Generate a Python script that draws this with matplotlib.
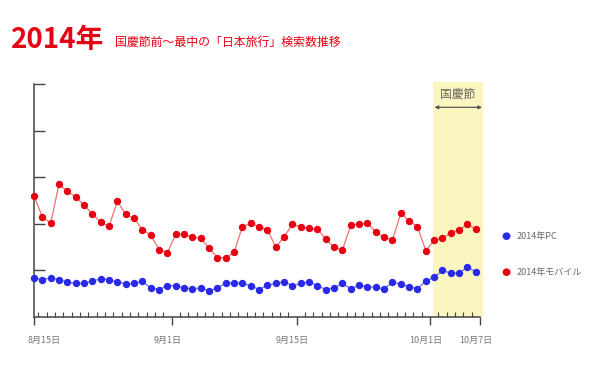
import matplotlib.pyplot as plt
import matplotlib.transforms as mtransforms
import numpy as np

plt.rcParams['font.family'] = ['Noto Sans CJK JP', 'DejaVu Sans']

# daily values, 8/15 .. 10/7 (54 days)
mobile = [260, 215, 201, 285, 270, 258, 240, 221, 203, 195,
          248, 220, 212, 187, 176, 144, 138, 178, 178, 171,
          169, 148, 127, 127, 139, 194, 201, 194, 187, 150,
          172, 199, 193, 190, 189, 167, 150, 144, 197, 200,
          201, 182, 171, 165, 223, 206, 194, 142, 165, 169,
          181, 187, 199, 188]
pc = [84, 80, 84, 80, 75, 72, 72, 77, 82, 80,
      75, 71, 72, 77, 62, 59, 67, 67, 63, 60,
      63, 56, 63, 72, 73, 72, 67, 59, 68, 72,
      76, 67, 72, 76, 67, 59, 63, 72, 61, 68,
      65, 64, 60, 75, 70, 65, 61, 77, 85, 100,
      94, 94, 107, 97]
days = np.arange(len(mobile))

major_ticks = [0, 16.5, 31.5, 47.5, 53.5]
major_labels = ['8月15日', '9月1日', '9月15日', '10月1日', '10月7日']
holiday = (47.85, 53.85)  # 国慶節 period

fig = plt.figure(figsize=(6, 3.8), dpi=100)
ax = fig.add_axes([34 / 600, 1 - 317 / 380, 446 / 600, 233 / 380])

ax.axvspan(holiday[0], holiday[1], ymin=0, ymax=1.01, color='#fbf6bf',
           lw=0, zorder=0, clip_on=False)

ax.plot(days, mobile, color='#f07070', lw=0.9, marker='o', ms=4.3,
        mfc='#e60012', mec='#e60012', zorder=3, clip_on=False)
ax.plot(days, pc, color='#7070f0', lw=0.9, marker='o', ms=4.3,
        mfc='#2a2ae6', mec='#2a2ae6', zorder=3, clip_on=False)

ax.set_xlim(0, 53.5)
ax.set_ylim(0, 500)

for s in ['top', 'right']:
    ax.spines[s].set_visible(False)
for s in ['left', 'bottom']:
    ax.spines[s].set_color('#444444')
    ax.spines[s].set_linewidth(1.1)

ax.set_yticks([100, 200, 300, 400, 500])
ax.set_yticklabels([])
ax.tick_params(axis='y', direction='in', length=8, width=1.0, color='#444444')

ax.set_xticks(major_ticks)
ax.set_xticklabels(major_labels, fontsize=6.5, color='#777777')
ax.set_xticks(np.arange(0.5, 53.5, 1), minor=True)
ax.tick_params(axis='x', which='major', direction='out', length=6, width=1.0,
               color='#444444', pad=8)
ax.tick_params(axis='x', which='minor', direction='in', length=3.5, width=0.8,
               color='#444444')
shift = mtransforms.ScaledTranslation(-4 / 100, 0, fig.dpi_scale_trans)
for i, lab in enumerate(ax.get_xticklabels()):
    if i == 0:
        lab.set_transform(lab.get_transform() + mtransforms.ScaledTranslation(10 / 100, 0, fig.dpi_scale_trans))
    else:
        lab.set_transform(lab.get_transform() + shift)

# holiday label with arrow
ax.text((holiday[0] + holiday[1]) / 2, 478, '国慶節', ha='center', va='center',
        fontsize=8.5, color='#666666', clip_on=False)
ax.annotate('', xy=(holiday[0] + 0.2, 450), xytext=(holiday[1] - 0.1, 450),
            arrowprops=dict(arrowstyle='<|-|>', color='#555555', lw=0.9,
                            mutation_scale=5, shrinkA=0, shrinkB=0),
            annotation_clip=False)

# legend
fig.text(506 / 600, 1 - 236 / 380, '●', color='#2a2ae6', fontsize=7.5,
         ha='center', va='center', family='DejaVu Sans')
fig.text(517 / 600, 1 - 236 / 380, '2014年PC', color='#666666', fontsize=6.5,
         ha='left', va='center')
fig.text(506 / 600, 1 - 272 / 380, '●', color='#e60012', fontsize=7.5,
         ha='center', va='center', family='DejaVu Sans')
fig.text(517 / 600, 1 - 272 / 380, '2014年モバイル', color='#666666', fontsize=6.5,
         ha='left', va='center')

# title
fig.text(11 / 600, 1 - 48 / 380, '2014年', color='#e60012', fontsize=20,
         fontweight='bold', ha='left', va='baseline')
fig.text(115 / 600, 1 - 47 / 380, '国慶節前〜最中の「日本旅行」検索数推移',
         color='#e60012', fontsize=8.6, ha='left', va='baseline')

fig.savefig('out.png', dpi=100)
